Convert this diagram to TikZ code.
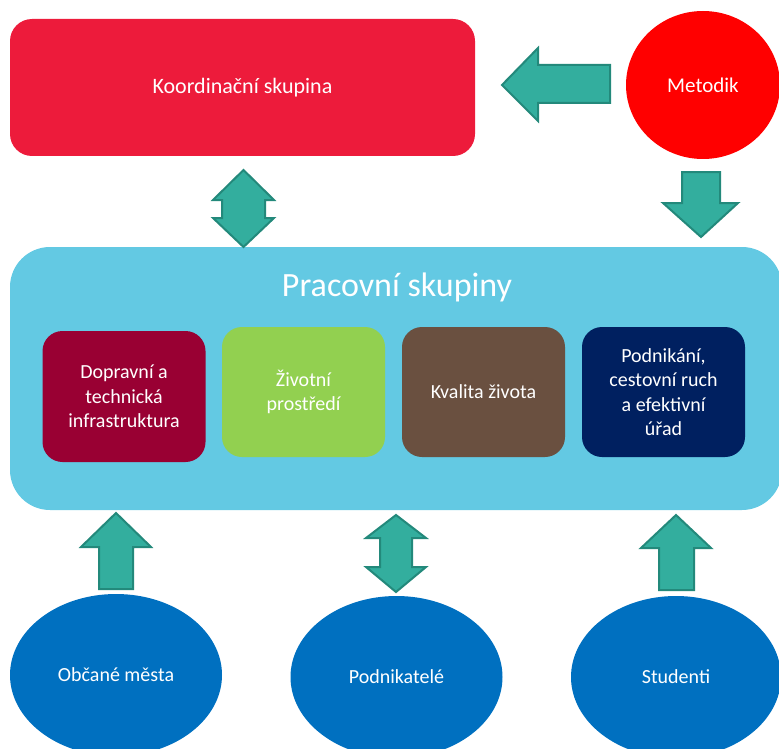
\documentclass[tikz,border=0pt]{standalone}
\usepackage{fontspec}
\setmainfont{Carlito}
\definecolor{koordred}{RGB}{237,27,59}
\definecolor{metred}{RGB}{255,0,0}
\definecolor{pracblue}{RGB}{99,201,227}
\definecolor{c1}{RGB}{153,0,51}
\definecolor{c2}{RGB}{146,208,80}
\definecolor{c3}{RGB}{106,80,64}
\definecolor{c4}{RGB}{0,32,96}
\definecolor{ellblue}{RGB}{0,112,192}
\definecolor{arrfill}{RGB}{51,174,158}
\definecolor{arrline}{RGB}{35,137,123}
\tikzset{
  bigbox/.style={rounded corners=22pt, text=white, align=center, inner sep=0pt},
  smallbox/.style={rounded corners=20pt, text=white, align=center, inner sep=0pt,
     minimum width=163pt, minimum height=130pt, font=\fontsize{20}{24.5}\selectfont},
  person/.style={ellipse, fill=ellblue, text=white, minimum width=212pt, minimum height=162pt,
     inner sep=0pt, font=\fontsize{20}{24}\selectfont},
  blockarrow/.style={fill=arrfill, draw=arrline, line width=2pt, line join=miter}
}
\usetikzlibrary{shapes.geometric}
\begin{document}
\begin{tikzpicture}[x=1pt,y=-1pt]
\useasboundingbox (0,0) rectangle (779,749);
\clip (0,0) rectangle (779,749);
% top
\node[bigbox, fill=koordred, minimum width=465pt, minimum height=137pt,
  font=\fontsize{22}{26}\selectfont] (koord) at (242.5,87.5) {Koordinační skupina};
\node[ellipse, fill=metred, text=white, minimum width=154pt, minimum height=148pt,
  inner sep=0pt, font=\fontsize{21}{25}\selectfont] (metodik) at (703,85) {Metodik};
% working groups
\node[bigbox, rounded corners=40pt, fill=pracblue, minimum width=772pt, minimum height=263pt] (prac) at (396,378.5) {};
\node[text=white, font=\fontsize{34}{40}\selectfont] (practitle) at (397,287) {Pracovní skupiny};
\node[smallbox, fill=c1, minimum height=131pt] (g1) at (124,396.5) {Dopravní a\\technická\\infrastruktura};
\node[smallbox, fill=c2] (g2) at (303.5,392) {Životní\\prostředí};
\node[smallbox, fill=c3] (g3) at (483.5,392) {Kvalita života};
\node[smallbox, fill=c4] (g4) at (663.5,392) {Podnikání,\\cestovní ruch\\a efektivní\\úřad};
% people
\node[person] (obcane) at (116,675) {Občané města};
\node[person] (podnik) at (396.5,677) {Podnikatelé};
\node[person, minimum width=210pt] (studenti) at (676,677) {Studenti};
% block arrows
\draw[blockarrow] (502,85) -- (538,48) -- (538,65) -- (610,65) -- (610,103) -- (538,103) -- (538,121) -- cycle;
\draw[blockarrow] (682,172) -- (720,172) -- (720,203) -- (738,203) -- (701,237) -- (663,203) -- (682,203) -- cycle;
\draw[blockarrow] (243.5,170) -- (274,200) -- (265,200) -- (265,218) -- (274,218) -- (243.5,247) -- (213,218) -- (222,218) -- (222,200) -- (213,200) -- cycle;
\draw[blockarrow] (116,513) -- (151,547) -- (133,547) -- (133,589) -- (99,589) -- (99,547) -- (81,547) -- cycle;
\draw[blockarrow] (396,515) -- (426,538) -- (412,538) -- (412,567) -- (426,567) -- (396,592) -- (366,567) -- (380,567) -- (380,538) -- (366,538) -- cycle;
\draw[blockarrow] (676,515) -- (711,548) -- (694,548) -- (694,590) -- (659,590) -- (659,548) -- (641,548) -- cycle;
\end{tikzpicture}
\end{document}
